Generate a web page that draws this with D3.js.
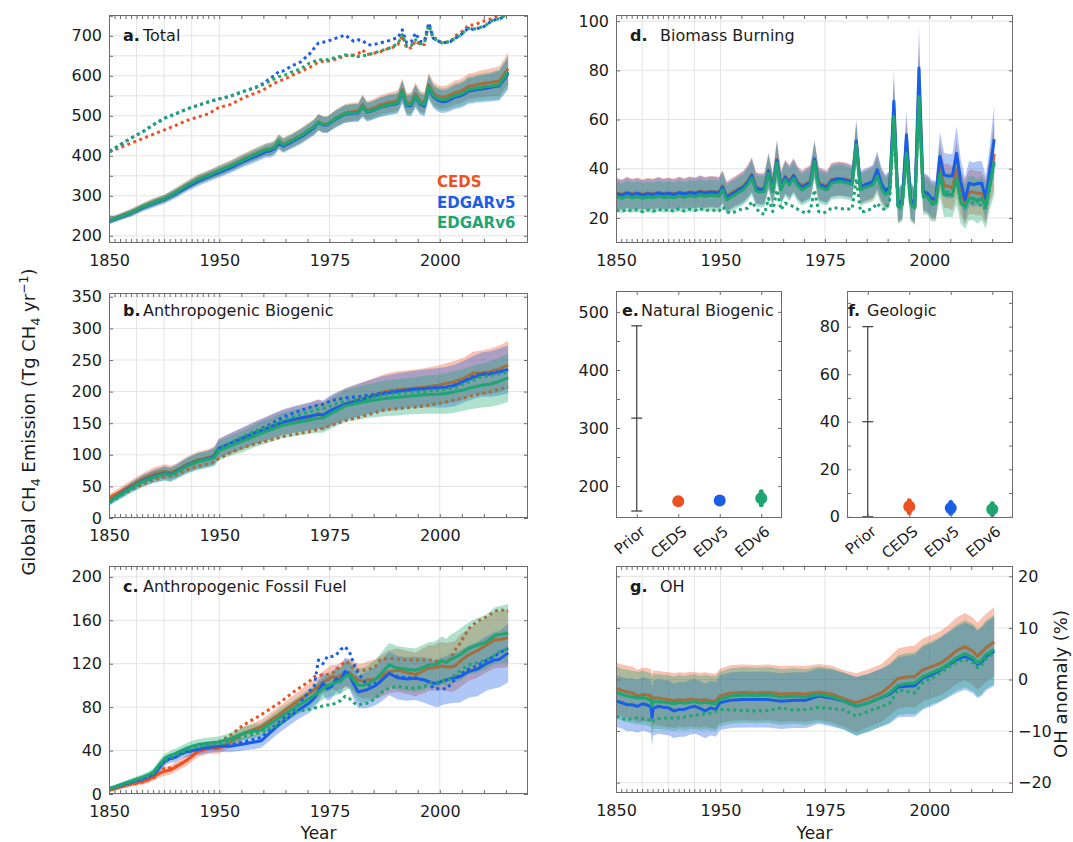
<!DOCTYPE html>
<html>
<head>
<meta charset="utf-8">
<script src="https://cdn.jsdelivr.net/npm/d3@7"></script>
<style>
  body { margin: 0; background: #ffffff; }
  svg text { font-family: "DejaVu Sans", "Lucida Grande", sans-serif; }
</style>
</head>
<body>
<script>
// ---------------------------------------------------------------
// Global methane emissions by source: posterior (solid) and prior
// (dotted) estimates for three anthropogenic inventories.
// Pre-1950 years are drawn on a compressed time axis.
// ---------------------------------------------------------------

const inventories = ["CEDS", "EDGARv5", "EDGARv6"];

// ---- a. Total (Tg CH4/yr)
const yearsA = [1850,1860,1870,1880,1890,1900,1910,1920,1930,1940,
  1949,1952,1955,1958,1960,1961,1962,1963,1964,1966,1968,1970,1971,1972,1973,
  1974,1976,1978,1980,1981,1982,1983,1984,1986,1988,1989,1990,1991,1992,1993,
  1994,1995,1996,1997,1998,1999,2000,2001,2002,2003,2004,2005,2006,2007,2008,
  2009,2010,2011,2012,2013,2014,2015];
const totalCEDS = [238,249,259,273,284,294,309,326,341,352,
  363,375,391,406,416,417,422,437,428,439,451,466,473,485,479,
  479,495,507,511,511,528,514,517,527,533,535,538,566,532,533,
  555,537,533,578,557,549,546,548,553,558,561,566,574,575,578,
  580,582,583,585,587,603,618];
const totalEDv5 = [237,247,257,270,281,291,305,321,336,348,
  358,370,386,400,410,412,417,432,424,435,447,462,470,483,477,
  477,492,504,507,507,523,509,512,521,527,528,531,559,525,525,
  548,529,524,570,548,539,535,536,541,547,549,554,562,563,566,
  567,569,571,573,575,590,606];
const totalEDv6 = [238,248,258,272,283,293,308,325,340,351,
  362,374,390,405,415,416,421,436,427,438,450,465,472,484,478,
  478,494,505,508,508,524,510,513,522,528,530,533,561,527,528,
  550,532,528,573,551,543,540,541,546,551,553,558,566,567,570,
  571,573,574,576,578,594,610];
const totalPriorCEDS = [410,421,432,443,454,465,476,488,497,505,
  521,528,545,558,568,575,581,587,590,601,611,621,628,634,636,
  636,642,650,652,655,665,653,655,660,669,672,678,700,669,670,
  688,678,678,730,697,690,682,684,686,700,706,714,727,727,730,
  736,738,742,747,752,756,762];
const totalPriorEDv5 = [411,428,445,460,478,494,505,517,526,535,
  542,549,561,572,584,595,600,611,612,625,635,655,669,682,684,
  686,694,702,686,690,688,678,677,682,688,692,695,715,682,685,
  707,686,686,732,694,688,682,684,686,694,700,710,719,716,719,
  719,727,735,740,742,748,755];
const totalPriorEDv6 = [411,428,445,460,478,494,505,517,526,535,
  542,549,561,572,580,588,592,598,600,610,618,632,636,640,640,
  640,646,652,651,648,650,652,655,662,669,675,680,703,673,675,
  690,680,682,726,694,688,682,684,686,694,700,710,719,716,719,
  722,727,735,742,742,749,756];
const totalSpread = [8,8,9,9,10,10,11,11,12,12,
  13,13,14,15,15,16,16,17,17,17,18,18,19,20,20,
  20,21,22,22,22,26,23,23,24,25,25,25,28,25,26,
  28,26,26,30,28,28,28,28,29,30,30,31,32,32,33,
  34,34,35,36,37,38,40];

// ---- b. Anthropogenic biogenic
const yearsB = [1850,1860,1870,1880,1890,1900,1905,1910,1920,1930,1940,1945,1949,
  1952,1955,1958,1961,1964,1967,1970,1972,1973,1975,1978,1981,1984,1987,1990,
  1993,1996,1999,2001,2003,2005,2007,2009,2011,2013,2015];
const bioCEDS = [32,42,52,62,70,74,72,75,85,92,96,99,110,
  118,126,135,143,151,156,160,165,161,170,180,187,193,200,203,
  205,207,210,213,216,221,229,230,232,236,242];
const bioEDv5 = [26,38,49,59,66,71,69,73,83,90,94,98,110,
  118,127,136,144,152,157,161,164,163,171,180,186,192,197,200,
  203,205,206,207,210,216,222,227,228,231,235];
const bioEDv6 = [26,37,48,58,65,70,68,72,82,89,93,96,106,
  114,122,131,139,147,151,155,158,158,166,177,182,186,189,191,
  193,195,196,197,200,203,207,210,212,216,222];
const bioPriorCEDS = [28,36,45,53,60,65,66,68,76,82,86,89,94,
  103,112,118,123,129,133,137,140,142,147,154,159,165,171,173,
  175,177,181,184,187,190,194,197,200,204,207];
const bioPriorEDv5 = [25,36,47,57,64,70,69,72,83,90,94,97,110,
  118,129,138,148,160,168,175,179,180,186,190,192,195,198,201,
  203,205,206,207,211,217,224,228,229,232,234];
const bioPriorEDv6 = [25,36,47,57,64,70,69,72,83,90,94,97,110,
  118,129,137,145,155,162,168,172,173,178,185,188,191,195,197,
  199,200,202,204,206,212,218,224,225,228,231];
const bioSpread = [6,7,8,9,10,11,11,11,12,13,13,14,15,
  16,17,18,19,20,21,22,23,23,24,25,26,27,28,29,
  29,30,31,32,33,33,34,35,36,37,38];

// ---- c. Anthropogenic fossil fuel
const yearsC = [1850,1860,1870,1880,1885,1890,1895,1900,1905,1910,
  1915,1920,1925,1930,1940,1949,1952,1955,1959,1963,
  1967,1970,1971,1972,1973,1974,1975,1976,1977,1978,
  1979,1980,1981,1982,1983,1985,1986,1988,1990,1992,
  1994,1996,1997,1998,1999,2000,2001,2002,2003,2004,
  2006,2008,2010,2012,2013,2015];
const fosCEDS = [3.5,6.5,9.5,11.5,13,16,19,21,22,25,
  28,31,35,39,42,42,48,56,62,73,
  85,93,96,99,103,105,108,107,109,111,
  112,108,105,104,105,106,108,112.7,114,112,
  110,114,116,116,117,118,117,117,118,122,
  128,132,137,142,142,144];
const fosEDv5 = [5,8,11,14,16,18,24,30,32.5,34,
  37,39,40,41,43,44,44,46,49,63.6,
  76,84,88,95,102,97,99,106,104,113,
  110,101,94,95,96,100,103.5,111,107,106,
  106.5,105,103.5,102,102,104,105,106.5,107,108,
  112.7,115,120,123.5,124,130];
const fosEDv6 = [5,8.5,12,15.5,17.5,20.5,27,33,35.5,37.5,
  40,42,44,45.5,47,48,51,56,59,70,
  80.5,88,91,94,97,100,101,103,104,108,
  110,105,100.5,100,101,106,110,119,116,115,
  114,117,119,119,120,123,121,124,126,128,
  134,137,140,146,147,148];
const fosPriorCEDS = [4,6.5,9,11,13,15,19,24,24,25,
  28,31,35,39,45,48,54,63.6,73,83.6,
  96,104,108,109,110,110,111,114,118,122,
  120,115,114,114,114,118,123.5,125,124,123.5,
  123.5,123.5,123.5,123,122,122,122,125,132.7,138,
  152,159,163,168,170,168];
const fosPriorEDv5 = [5,8,11,14,16,18,24,30,32.5,34,
  37,39,40,41,43,44,45,48,52,66,
  80,95,99,123.5,120,126.6,126.6,128,133,135.8,
  131,120,111,106,100,102,104,111,108,107,
  107,105,103,97.4,97,97,97,101,106,110,
  115,118,123,127,130,134];
const fosPriorEDv6 = [4.5,8,11,14.5,16.5,19,25,31,33.5,35.5,
  38,40,42,43.5,45,46,49,53,57,64,
  76,78,79,80,81,82,82,84,86,90,
  88,84,82,83,83.6,88,92.8,97.4,99,98,
  97.4,99,102,103,103,104,104,106.6,110,113,
  119,121,123.5,128,131,134];
const fosSpread = [1.5,2,2.5,3,3,3.5,4,4,4,4.5,
  4.5,5,5,5,5,5,5.5,6,6.5,7.5,
  8,9,9,10,10,11,11,12,12,13,
  13,14,15,16,17,18,19,20,20,20,
  20,21,21,21,22,22,22,23,23,24,
  24,25,25,26,26,27];

// ---- d. Biomass burning (5-yearly before 1950, annual after)
const yearsD = [1850,1855,1860,1865,1870,1875,1880,1885,1890,1895,1900,1905,1910,
  1915,1920,1925,1930,1935,1940,1945,1948,1949].concat(d3.range(1950, 2016));
const bbCEDS = [30.1,29.6,30.4,29.8,30.2,29.6,30.1,29.8,30.4,29.9,30.2,29.8,30.5,
  30,30.6,30.2,30.9,30.4,30.8,30.6,30.4,31.1,
  33,28.8,30,31,32,33,35,37.7,32.5,32,
  32.2,39.5,32.2,43.8,33,37,35,37.5,34.5,33,
  34,35,44,34.2,33.5,33,35.5,36,36,35.8,
  35.5,35,50.5,32,33,33.5,34.5,38.5,33,30.5,
  32,64,25,26.5,50,27,24.5,75,30,29.5,
  27,27,41,33,33,32,40,30,26.5,30.5,
  30.5,30,30,26.5,36,46];
const bbEDv5 = [29.8,29.3,30.1,29.5,29.9,29.3,29.8,29.5,30.1,29.6,29.9,29.5,30.2,
  29.7,30.3,29.9,30.6,30.1,30.5,30.3,30.1,30.8,
  32.5,28.3,29.5,30.4,31.5,32.5,34.5,37.2,32,31.5,
  31.7,39.2,31.7,43.3,32.4,36.5,34.4,37.2,34,32.4,
  33.5,34.4,44,33.7,33,32.4,35.1,35.5,35.8,35.5,
  35.1,34.5,51.3,32.5,33.5,34.1,35,39.6,34,31,
  32.5,67.4,25.5,27,53.8,27.5,25,81,31,30,
  28,27.5,45,37.5,37,37,46.3,34.8,27.3,34.1,
  33.5,34,34.1,28,40,52];
const bbEDv6 = [28.5,28,28.8,28.2,28.6,28,28.5,28.2,28.8,28.3,28.6,28.2,28.9,
  28.4,29,28.6,29.3,28.8,29.2,29,28.8,29.5,
  31.5,27.3,28.5,29.4,30.5,31.5,33.5,36.2,31,30.5,
  30.7,38.2,30.7,42.3,31.4,35.5,33.4,36.2,33,31.4,
  32.5,33.4,43,32.7,32,31.4,34.1,34.5,34.8,34.5,
  34.1,33.5,49.7,31.4,32.2,32.7,33.5,37,32,29.5,
  31,61.3,24.6,25.5,46.3,26,24,69.4,29,28.7,
  26,26,38.2,29.4,29.5,29.4,36.2,26.6,24.6,28,
  28,26.6,28,24.6,34,43];
const bbPrior = [23.2,22.6,23.5,22.8,23.4,22.5,23.3,22.7,23.6,22.9,23.5,22.6,23.8,
  22.8,23.6,23,23.9,22.9,23.3,23,22.8,23.2,
  24.6,22.6,21.9,22.5,23.3,23.5,24,26.6,24,22,
  21.5,28,22.6,31.4,23.3,26,25.3,24.6,23.5,22.6,
  21.9,23,31.4,22.6,22,22.5,24,24,24,23.6,
  23.6,23.6,36,22.6,22.6,23.3,24,26,24,23.3,
  27.3,60,23.5,24.5,46,25.5,23.5,68,28.5,28.5,
  25.5,25.5,38,30,30.7,29,36,26,24,27.5,
  26,27.5,24,24,33,42];
const bbSpread = [6.2,6,6.3,6.1,6.2,6,6.2,6.1,6.3,6.1,6.2,6.1,6.3,
  6.1,6.3,6.2,6.4,6.2,6.3,6.3,6.2,6.4,
  6.5,6,6,6,6.2,6.3,6.5,7,6.3,6.3,
  6.3,7,6.3,8,6.4,6.8,6.6,6.8,6.5,6.4,
  6.5,6.6,7.5,6.6,6.5,6.4,6.7,6.8,6.8,6.8,
  6.7,6.6,8.5,6.5,6.5,6.6,6.7,7.5,6.7,6.5,
  6.8,13,7,7,10,7.5,7,17,7.5,7.5,
  7.5,7.5,10,9,9,9,11,9,9,9,
  9,9,9,9,10,14];

// ---- e. Natural biogenic and f. Geologic (prior vs. posterior totals)
const sourceCats = ["Prior", "CEDS", "EDv5", "EDv6"];
const natMid = [317, 174, 175, 179];
const natLow = [157, 169, 170, 168];
const natHigh = [476, 179, 180, 190];
const geoMid = [40, 4.3, 3.7, 3.2];
const geoLow = [0, 1.8, 1.5, 1.0];
const geoHigh = [80, 6.8, 6.0, 5.5];

// ---- g. OH anomaly (%)
const yearsG = [1850,1855,1860,1865,1870,1875,1880,1883,1884,1885,
  1890,1895,1900,1905,1910,1915,1920,1925,1930,1935,
  1940,1945,1949,1952,1955,1958,1961,1964,1967,1970,
  1973,1976,1979,1982,1985,1988,
  1990,1992,1994,1996,1998,2000,2002,2004,2006,2008,2010,
  2011,2012,2013,2015];
const ohCEDS = [-1.75,-2.1,-2.4,-2.6,-3.2,-2.9,-3.0,-3.2,-4.5,-3.6,
  -3.6,-3.8,-3.9,-4.1,-3.9,-4.0,-3.8,-3.9,-4.0,-3.9,
  -4.1,-4.2,-3.2,-2.6,-2.5,-2.6,-2.5,-2.8,-2.7,-2.8,
  -2.4,-2.8,-3.7,-4.5,-3.6,-2.6,
  -1.3,0.2,0.5,0.6,1.9,2.5,3.1,4.2,5.6,6.4,5.4,
  4.5,5.3,6.1,7.3];
const ohEDv5 = [-4.2,-4.5,-4.9,-4.9,-5.2,-4.7,-5.0,-5.3,-7.4,-5.6,
  -5.2,-5.4,-5.5,-6.1,-5.8,-5.8,-5.4,-5.2,-5.6,-6.1,
  -5.5,-5.8,-4.5,-4.0,-3.9,-3.9,-3.9,-4.2,-4.0,-4.0,
  -3.2,-3.6,-4.2,-5.2,-4.5,-3.5,
  -2.9,-1.5,-1.3,-1.2,0.3,0.9,1.8,2.8,3.8,4.5,3.8,
  2.9,3.4,4.4,5.5];
const ohEDv6 = [-2.5,-2.9,-3.2,-3.4,-3.6,-3.5,-3.8,-4.0,-5.2,-4.3,
  -4.3,-4.4,-4.5,-4.7,-4.4,-4.6,-4.4,-4.3,-4.6,-4.4,
  -4.6,-4.7,-3.8,-3.2,-3.0,-3.1,-3.0,-3.4,-3.2,-3.4,
  -2.9,-3.3,-4.2,-5.2,-4.5,-3.5,
  -2.6,-1.1,-0.8,-0.7,0.6,1.3,2.0,3.0,4.2,5.0,4.2,
  3.2,3.8,4.8,5.8];
const ohPrior = [-7.1,-7.6,-7.8,-7.6,-7.4,-7.6,-7.8,-7.9,-8.3,-8.0,
  -7.6,-7.5,-7.4,-7.5,-7.4,-7.3,-7.1,-6.9,-6.8,-6.6,
  -6.5,-6.2,-5.8,-5.9,-6.0,-6.1,-6.0,-5.5,-5.9,-5.8,
  -5.4,-5.6,-5.9,-7.1,-6.1,-5.3,
  -4.6,-2.0,-2.3,-2.6,-0.5,0.3,1.2,2.3,3.3,3.9,3.2,
  2.3,2.8,3.9,5.2];
const ohSpread = [5.0,5.0,5.1,5.1,5.1,5.2,5.2,5.2,5.6,5.3,
  5.3,5.3,5.3,5.3,5.3,5.3,5.3,5.3,5.3,5.3,
  5.3,5.3,5.3,5.4,5.4,5.4,5.4,5.4,5.4,5.4,
  5.4,5.5,5.5,5.7,5.6,5.6,
  5.7,5.8,5.9,6.0,6.1,6.1,6.2,6.3,6.4,6.5,6.5,
  6.5,6.6,6.6,6.7];

// ---- axis tick values
const xLabelYears = [1850, 1950, 1975, 2000];
const xGridYears = [1875, 1900, 1925, 1950, 1975, 2000];
const xMinorYears = d3.range(1855, 2020, 5);

// ---------------------------------------------------------------
const colors = { CEDS: "#ee5121", EDGARv5: "#1b5ee6", EDGARv6: "#1ea672" };
const BAND_OPACITY = 0.35;
const TXT = "#1c1c1c", FRAME = "#6c6c6c", GRID = "#e4e4e4";
const FS = 16;

const svg = d3.select("body").append("svg")
  .attr("width", 1073).attr("height", 842)
  .style("display", "block");

function timeScale(L, R) {
  // 1850–1950 squeezed into the width of 25 years
  return d3.scaleLinear().domain([1850, 1950, 2020]).range([L, L + (R - L) * 25 / 95, R]);
}

function styleAxisText(sel) {
  sel.selectAll("text").attr("font-size", FS).attr("fill", TXT)
     .attr("font-family", '"DejaVu Sans", sans-serif');
}

// inward tick marks on all four sides plus the box
function frameAndTicks(g, x, y, box, xTicks, yTicks) {
  const { L, R, T, B } = box;
  const put = (axis, tr) => g.append("g").attr("transform", tr).call(axis)
    .call(s => s.select(".domain").remove())
    .call(s => s.selectAll("line").attr("stroke", FRAME).attr("stroke-width", 1));
  put(d3.axisBottom(x).tickValues(xTicks).tickSize(-4).tickSizeOuter(0).tickFormat(""), `translate(0,${B})`);
  put(d3.axisTop(x).tickValues(xTicks).tickSize(-4).tickSizeOuter(0).tickFormat(""), `translate(0,${T})`);
  put(d3.axisLeft(y).tickValues(yTicks).tickSize(-4).tickSizeOuter(0).tickFormat(""), `translate(${L},0)`);
  put(d3.axisRight(y).tickValues(yTicks).tickSize(-4).tickSizeOuter(0).tickFormat(""), `translate(${R},0)`);
  g.append("rect").attr("x", L + 0.5).attr("y", T + 0.5)
    .attr("width", R - L - 1).attr("height", B - T - 1)
    .attr("fill", "none").attr("stroke", FRAME).attr("stroke-width", 1);
}

function panelTitle(xLetter, xText, yBase, letter, text) {
  const t = svg.append("text").attr("y", yBase).attr("font-size", FS).attr("fill", TXT);
  t.append("tspan").attr("x", xLetter).attr("font-weight", "bold").text(letter);
  t.append("tspan").attr("x", xText).text(text);
}

function timePanel(cfg) {
  const box = cfg.box, { L, R, T, B } = box;
  const x = timeScale(L, R);
  const y = d3.scaleLinear().domain(cfg.yDomain).range([B, T]);
  const g = svg.append("g").attr("class", "panel-" + cfg.id);

  // grid
  g.append("g").selectAll("line").data(xGridYears).join("line")
    .attr("x1", d => x(d)).attr("x2", d => x(d)).attr("y1", T).attr("y2", B)
    .attr("stroke", GRID).attr("stroke-width", 1);
  g.append("g").selectAll("line").data(cfg.yGrid).join("line")
    .attr("x1", L).attr("x2", R).attr("y1", d => y(d)).attr("y2", d => y(d))
    .attr("stroke", GRID).attr("stroke-width", 1);

  // data layer, clipped to the plotting box
  const clipId = "clip-" + cfg.id;
  svg.append("clipPath").attr("id", clipId).append("rect")
    .attr("x", L).attr("y", T).attr("width", R - L).attr("height", B - T);
  const layer = g.append("g").attr("clip-path", `url(#${clipId})`);

  const yrs = cfg.years;
  const px = i => x(yrs[i] + 0.5);   // annual values sit at mid-year
  const band = (vals, col) => layer.append("path")
    .attr("d", d3.area().x((d, i) => px(i)).y0((d, i) => y(d - cfg.spread[i])).y1((d, i) => y(d + cfg.spread[i]))(vals))
    .attr("fill", col).attr("fill-opacity", BAND_OPACITY).attr("stroke", "none");
  const line = (vals, col, dotted) => {
    if (!vals) return;
    layer.append("path")
      .attr("d", d3.line().x((d, i) => px(i)).y(d => y(d))(vals))
      .attr("fill", "none").attr("stroke", col).attr("stroke-width", 3)
      .attr("stroke-linejoin", "round")
      .attr("stroke-dasharray", dotted ? "3 3.4" : null);
  };

  const [c, e5, e6] = cfg.series;
  band(c.post, colors.CEDS);
  band(e5.post, colors.EDGARv5);
  line(c.prior, colors.CEDS, true);
  line(c.post, colors.CEDS, false);
  band(e6.post, colors.EDGARv6);
  line(e5.prior, colors.EDGARv5, true);
  line(e5.post, colors.EDGARv5, false);
  line(e6.prior, colors.EDGARv6, true);
  line(e6.post, colors.EDGARv6, false);

  frameAndTicks(g, x, y, box, xMinorYears, cfg.yGrid);

  // tick labels
  g.append("g").attr("transform", `translate(0,${B})`)
    .call(d3.axisBottom(x).tickValues(xLabelYears).tickSize(0).tickPadding(11.5).tickFormat(d3.format("d")))
    .call(s => s.select(".domain").remove()).call(styleAxisText);
  if (cfg.side === "right") {
    g.append("g").attr("transform", `translate(${R},0)`)
      .call(d3.axisRight(y).tickValues(cfg.yLabels).tickSize(0).tickPadding(5))
      .call(s => s.select(".domain").remove()).call(styleAxisText);
  } else {
    g.append("g").attr("transform", `translate(${L},0)`)
      .call(d3.axisLeft(y).tickValues(cfg.yLabels).tickSize(0).tickPadding(7))
      .call(s => s.select(".domain").remove()).call(styleAxisText);
  }
  return { x, y, g };
}

// ---- a. Total
timePanel({
  id: "a", box: { L: 109, R: 528, T: 15, B: 243 }, yDomain: [182, 752],
  yGrid: d3.range(200, 751, 50), yLabels: [200, 300, 400, 500, 600, 700],
  years: yearsA, spread: totalSpread,
  series: [
    { post: totalCEDS, prior: totalPriorCEDS },
    { post: totalEDv5, prior: totalPriorEDv5 },
    { post: totalEDv6, prior: totalPriorEDv6 }]
});
panelTitle(123, 143, 41, "a.", "Total");
inventories.forEach((name, i) => {
  svg.append("text").attr("x", 437).attr("y", [187, 207.5, 228][i])
    .attr("font-size", 15).attr("font-weight", "bold").attr("fill", colors[name]).text(name);
});

// ---- b. Anthropogenic biogenic
timePanel({
  id: "b", box: { L: 109, R: 528, T: 293, B: 518 }, yDomain: [0, 356],
  yGrid: d3.range(0, 351, 50), yLabels: d3.range(0, 351, 50),
  years: yearsB, spread: bioSpread,
  series: [
    { post: bioCEDS, prior: bioPriorCEDS },
    { post: bioEDv5, prior: bioPriorEDv5 },
    { post: bioEDv6, prior: bioPriorEDv6 }]
});
panelTitle(123, 143, 316, "b.", "Anthropogenic Biogenic");

// ---- c. Anthropogenic fossil fuel
timePanel({
  id: "c", box: { L: 109, R: 528, T: 566, B: 794 }, yDomain: [0, 210],
  yGrid: d3.range(0, 201, 40), yLabels: d3.range(0, 201, 40),
  years: yearsC, spread: fosSpread,
  series: [
    { post: fosCEDS, prior: fosPriorCEDS },
    { post: fosEDv5, prior: fosPriorEDv5 },
    { post: fosEDv6, prior: fosPriorEDv6 }]
});
panelTitle(123, 143, 592, "c.", "Anthropogenic Fossil Fuel");

// ---- d. Biomass burning (one shared prior)
timePanel({
  id: "d", box: { L: 616, R: 1013, T: 15, B: 243 }, yDomain: [9.8, 102.5],
  yGrid: d3.range(20, 101, 20), yLabels: d3.range(20, 101, 20),
  years: yearsD, spread: bbSpread,
  series: [
    { post: bbCEDS, prior: null },
    { post: bbEDv5, prior: null },
    { post: bbEDv6, prior: bbPrior }]
});
panelTitle(630, 660, 41, "d.", "Biomass Burning");

// ---- g. OH anomaly (right-hand axis)
timePanel({
  id: "g", box: { L: 616, R: 1013, T: 566, B: 793 }, yDomain: [-22, 22],
  yGrid: d3.range(-20, 21, 10), yLabels: d3.range(-20, 21, 10), side: "right",
  years: yearsG, spread: ohSpread,
  series: [
    { post: ohCEDS, prior: null },
    { post: ohEDv5, prior: null },
    { post: ohEDv6, prior: ohPrior }]
});
panelTitle(630, 660, 592, "g.", "OH");

// ---- e. / f. source totals
function sourcePanel(cfg) {
  const { L, R, T, B } = cfg.box;
  const x = d3.scalePoint().domain(sourceCats).range([L, R]).padding(0.5);
  const y = d3.scaleLinear().domain(cfg.yDomain).range([B, T]);
  const g = svg.append("g");
  const catColor = [null, colors.CEDS, colors.EDGARv5, colors.EDGARv6];

  sourceCats.forEach((cat, i) => {
    const cx = x(cat);
    if (i === 0) {
      const bar = g.append("g").attr("stroke", "#3a3a3a").attr("stroke-width", 1.2);
      bar.append("line").attr("x1", cx).attr("x2", cx).attr("y1", y(cfg.low[i])).attr("y2", y(cfg.high[i]));
      [cfg.low[i], cfg.mid[i], cfg.high[i]].forEach(v =>
        bar.append("line").attr("x1", cx - 5.5).attr("x2", cx + 5.5).attr("y1", y(v)).attr("y2", y(v)));
    } else {
      g.append("line").attr("x1", cx).attr("x2", cx)
        .attr("y1", y(cfg.low[i])).attr("y2", y(cfg.high[i]))
        .attr("stroke", catColor[i]).attr("stroke-width", 5).attr("stroke-linecap", "round");
      g.append("circle").attr("cx", cx).attr("cy", y(cfg.mid[i])).attr("r", 6).attr("fill", catColor[i]);
    }
  });

  frameAndTicks(g, x, y, cfg.box, sourceCats, cfg.yTicks);

  g.append("g").attr("transform", `translate(${L},0)`)
    .call(d3.axisLeft(y).tickValues(cfg.yLabels).tickSize(0).tickPadding(7))
    .call(s => s.select(".domain").remove()).call(styleAxisText);

  g.append("g").attr("transform", `translate(0,${B})`)
    .call(d3.axisBottom(x).tickSize(0))
    .call(s => s.select(".domain").remove()).call(styleAxisText)
    .call(s => s.selectAll("text").attr("font-size", 15).attr("y", 0).attr("dy", 0)
      .attr("text-anchor", "end").attr("transform", "translate(9,15) rotate(-40)"));
}

sourcePanel({
  box: { L: 616, R: 782, T: 291, B: 518 }, yDomain: [145, 536],
  yTicks: d3.range(200, 501, 50), yLabels: [200, 300, 400, 500],
  mid: natMid, low: natLow, high: natHigh
});
panelTitle(622, 641, 316, "e.", "Natural Biogenic");

sourcePanel({
  box: { L: 847, R: 1013, T: 291, B: 518 }, yDomain: [-0.5, 95],
  yTicks: d3.range(0, 91, 10), yLabels: [0, 20, 40, 60, 80],
  mid: geoMid, low: geoLow, high: geoHigh
});
panelTitle(848, 867, 316, "f.", "Geologic");

// ---- shared axis titles
const yTitle = svg.append("text").attr("transform", "translate(35,422) rotate(-90)")
  .attr("text-anchor", "middle").attr("font-size", 18).attr("fill", TXT);
yTitle.append("tspan").text("Global CH");
yTitle.append("tspan").attr("font-size", 12.5).attr("dy", 4.5).text("4");
yTitle.append("tspan").attr("dy", -4.5).text(" Emission (Tg CH");
yTitle.append("tspan").attr("font-size", 12.5).attr("dy", 4.5).text("4");
yTitle.append("tspan").attr("dy", -4.5).text(" yr");
yTitle.append("tspan").attr("font-size", 12.5).attr("dy", -7).text("\u22121");
yTitle.append("tspan").attr("dy", 7).text(")");

svg.append("text").attr("transform", "translate(1067,684) rotate(-90)")
  .attr("text-anchor", "middle").attr("font-size", 18).attr("fill", TXT).text("OH anomaly (%)");

[318.5, 814.5].forEach(cx => svg.append("text").attr("x", cx).attr("y", 839)
  .attr("text-anchor", "middle").attr("font-size", 17).attr("fill", TXT).text("Year"));
</script>
</body>
</html>
